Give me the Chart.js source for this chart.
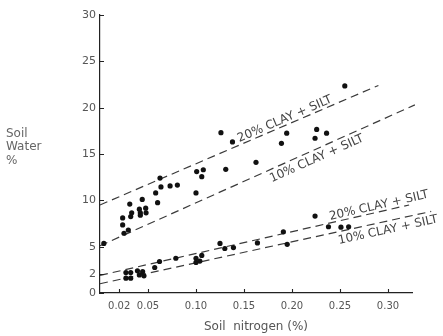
<!DOCTYPE html>
<html>
<head>
<meta charset="utf-8">
<script src="https://cdn.jsdelivr.net/npm/chart.js@4.4.1/dist/chart.umd.min.js"></script>
<style>
  html, body { margin: 0; padding: 0; background: #fff; }
  #wrap { width: 443px; height: 336px; position: relative; }
</style>
</head>
<body>
<div id="wrap"><canvas id="c"></canvas></div>
<script>
// Soil water (%) against soil nitrogen (%), two groups of samples
const nitrogenUpper = [0.004, 0.025, 0.0295, 0.0236, 0.0236, 0.032, 0.033, 0.031, 0.041, 0.0476, 0.042, 0.048, 0.042,
  0.044, 0.058, 0.060, 0.0625, 0.0635, 0.073, 0.0806, 0.100, 0.1007, 0.106, 0.1076, 0.126, 0.131, 0.138, 0.1625,
  0.189, 0.1945, 0.224, 0.2257, 0.236, 0.255];
const waterUpper = [5.35, 6.45, 6.8, 7.35, 8.1, 8.25, 8.65, 9.6, 9.05, 9.15, 8.65, 8.65, 8.4,
  10.1, 10.8, 9.75, 12.4, 11.45, 11.55, 11.65, 10.8, 13.1, 12.55, 13.3, 17.3, 13.35, 16.3, 14.1,
  16.15, 17.25, 16.7, 17.65, 17.25, 22.35];

const nitrogenLower = [0.027, 0.032, 0.027, 0.032, 0.039, 0.0444, 0.041, 0.0458, 0.057, 0.062, 0.079,
  0.1, 0.106, 0.1, 0.104, 0.125, 0.130, 0.139, 0.164, 0.191, 0.195, 0.224, 0.238, 0.251, 0.259];
const waterLower = [2.2, 2.2, 1.6, 1.6, 2.4, 2.3, 1.95, 1.85, 2.75, 3.4, 3.75,
  3.75, 4.05, 3.3, 3.45, 5.35, 4.8, 4.9, 5.4, 6.6, 5.25, 8.3, 7.15, 7.1, 7.15];

// Fitted lines (start and end of each)
const lineNames = ['20% CLAY + SILT', '10% CLAY + SILT', '20% CLAY + SILT', '10% CLAY + SILT'];
const lineX = [[0, 0.29], [0, 0.328], [0, 0.322], [0, 0.345]];
const lineY = [[9.5, 22.4], [5.1, 20.3], [1.9, 9.5], [1.0, 8.8]];

const xTicks = [0.02, 0.05, 0.10, 0.15, 0.20, 0.25, 0.30];
const xTickLabels = ['0.02', '0.05', '0.10', '0.15', '0.20', '0.25', '0.30'];
const yTicks = [0, 2, 5, 10, 15, 20, 25, 30];

const INK = '#222';
const TEXT = '#555';
const FONT = '"DejaVu Sans", sans-serif';

const pointStyle = {
  showLine: false, pointRadius: 2.6, pointHoverRadius: 2.6,
  backgroundColor: '#111', borderColor: '#111', borderWidth: 0
};

const datasets = [
  Object.assign({ label: 'upper', data: nitrogenUpper.map((x, i) => ({ x, y: waterUpper[i] })) }, pointStyle),
  Object.assign({ label: 'lower', data: nitrogenLower.map((x, i) => ({ x, y: waterLower[i] })) }, pointStyle)
];
lineNames.forEach((name, i) => {
  datasets.push({
    label: name,
    data: lineX[i].map((x, j) => ({ x, y: lineY[i][j] })),
    showLine: true, pointRadius: 0, borderColor: '#3a3a3a', borderWidth: 1.2,
    borderDash: [8, 5], clip: false, fill: false
  });
});

// where each line's caption sits: x value along the line, and which side
const captionPlacement = [
  { at: 0.195, side: 'above' },
  { at: 0.222, side: 'below' },
  { at: 0.292, side: 'above' },
  { at: 0.298, side: 'below' }
];

const decorations = {
  id: 'decorations',
  afterDraw(chart) {
    const { ctx, chartArea: a, scales: { x, y } } = chart;
    ctx.save();
    // inward tick marks
    ctx.strokeStyle = INK;
    ctx.lineWidth = 1.1;
    ctx.beginPath();
    yTicks.forEach(v => {
      const py = Math.round(y.getPixelForValue(v)) + 0.5;
      ctx.moveTo(a.left, py); ctx.lineTo(a.left + 4, py);
    });
    xTicks.forEach(v => {
      const px = Math.round(x.getPixelForValue(v)) + 0.5;
      ctx.moveTo(px, a.bottom); ctx.lineTo(px, a.bottom - 4);
    });
    ctx.stroke();

    // captions along the fitted lines
    ctx.fillStyle = '#444';
    ctx.font = '12px ' + FONT;
    ctx.textAlign = 'center';
    lineNames.forEach((name, i) => {
      const x0 = x.getPixelForValue(lineX[i][0]), y0 = y.getPixelForValue(lineY[i][0]);
      const x1 = x.getPixelForValue(lineX[i][1]), y1 = y.getPixelForValue(lineY[i][1]);
      const ang = Math.atan2(y1 - y0, x1 - x0);
      const p = captionPlacement[i];
      const t = (p.at - lineX[i][0]) / (lineX[i][1] - lineX[i][0]);
      const lx = x0 + (x1 - x0) * t, ly = y0 + (y1 - y0) * t;
      ctx.save();
      ctx.translate(lx, ly);
      ctx.rotate(ang);
      if (p.side === 'above') { ctx.textBaseline = 'bottom'; ctx.fillText(name, 0, 0); }
      else { ctx.textBaseline = 'top'; ctx.fillText(name, 0, 3); }
      ctx.restore();
    });

    // horizontal y-axis title
    ctx.fillStyle = '#666';
    ctx.font = '12px ' + FONT;
    ctx.textAlign = 'left';
    ctx.textBaseline = 'middle';
    const cy = a.top + (a.bottom - a.top) * 0.475;
    ['Soil', 'Water', '%'].forEach((s, k) => ctx.fillText(s, 6, cy + (k - 1) * 13.5));
    ctx.restore();
  }
};

new Chart(document.getElementById('c'), {
  type: 'scatter',
  data: { datasets },
  options: {
    responsive: true, maintainAspectRatio: false, animation: false,
    layout: { padding: { left: 70, right: 31, top: 15, bottom: 0 } },
    plugins: { legend: { display: false }, tooltip: { enabled: false } },
    scales: {
      x: {
        type: 'linear', min: 0, max: 0.325,
        afterBuildTicks: s => { s.ticks = xTicks.map(v => ({ value: v })); },
        afterFit: s => { s.height = 43; },
        grid: { display: false, drawTicks: false },
        border: { display: true, color: INK, width: 1.2 },
        ticks: {
          padding: 7, color: TEXT, font: { size: 10, family: FONT }, maxRotation: 0, autoSkip: false,
          callback: (v, i) => xTickLabels[i]
        },
        title: {
          display: true, text: 'Soil  nitrogen (%)', color: TEXT,
          font: { size: 12, family: FONT }, padding: { top: 0, bottom: 2 }
        }
      },
      y: {
        type: 'linear', min: 0, max: 30,
        afterBuildTicks: s => { s.ticks = yTicks.map(v => ({ value: v })); },
        afterFit: s => { s.width = 30; },
        grid: { display: false, drawTicks: false },
        border: { display: true, color: INK, width: 1.2 },
        ticks: { padding: 4, color: TEXT, font: { size: 11, family: FONT }, autoSkip: false }
      }
    }
  },
  plugins: [decorations]
});
</script>
</body>
</html>
